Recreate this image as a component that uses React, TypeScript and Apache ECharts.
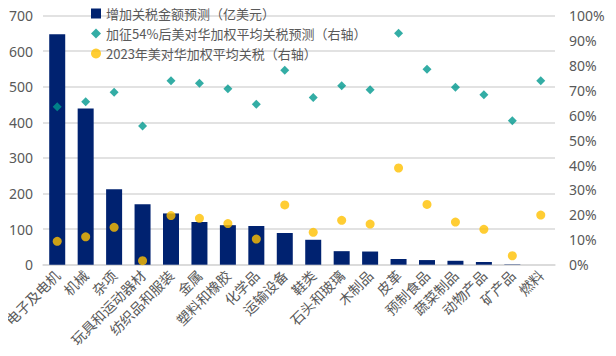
import React, { useEffect, useRef } from "react";
import * as echarts from "echarts";

const categories = [
  "电子及电机", "机械", "杂项", "玩具和运动器材", "纺织品和服装", "金属", "塑料和橡胶", "化学品", "运输设备",
  "鞋类", "石头和玻璃", "木制品", "皮革", "预制食品", "蔬菜制品", "动物产品", "矿产品", "燃料",
];
const tariffIncrease = [647, 439, 212, 170, 144, 120, 111, 109, 89, 70, 38, 37, 16, 13, 11, 7.6, 1, 0];
const tariffAfter54 = [63.4, 65.4, 69.2, 55.7, 73.8, 72.8, 70.6, 64.4, 78.0, 67.1, 71.8, 70.2, 92.9, 78.4, 71.2, 68.2, 57.8, 73.8];
const tariff2023 = [9.4, 11.2, 15.0, 1.6, 19.7, 18.6, 16.5, 10.3, 24.0, 13.0, 17.8, 16.3, 38.8, 24.2, 17.1, 14.2, 3.6, 19.9];
const leftTicks = [0, 100, 200, 300, 400, 500, 600, 700];
const names = ["增加关税金额预测（亿美元）", "加征54%后美对华加权平均关税预测（右轴）", "2023年美对华加权平均关税（右轴）"];

const FONT = "'Noto Sans', 'Noto Sans CJK SC', sans-serif";
const CJK = "'Noto Sans CJK SC', sans-serif";

export default function App() {
  const ref = useRef<HTMLDivElement>(null);
  useEffect(() => {
    const chart = echarts.init(ref.current!, null, { renderer: "svg" });
    chart.setOption({
      animation: false,
      backgroundColor: "#ffffff",
      grid: { left: 43, right: 61, top: 15.5, bottom: 91.3, containLabel: false },
      legend: {
        orient: "vertical",
        left: 86,
        top: 2,
        itemGap: 7,
        itemWidth: 10,
        itemHeight: 10,
        textStyle: { color: "#595959", fontSize: 13, fontFamily: CJK },
        data: [
          { name: names[0], icon: "rect" },
          { name: names[1], icon: "diamond" },
          { name: names[2], icon: "circle" },
        ],
      },
      xAxis: {
        type: "category",
        data: categories,
        axisLine: { lineStyle: { color: "#D9D9D9", width: 1.5 } },
        axisTick: { show: false },
        axisLabel: { rotate: 45, interval: 0, color: "#595959", fontSize: 14, fontFamily: CJK, margin: 8 },
      },
      yAxis: [
        {
          type: "value",
          min: leftTicks[0],
          max: leftTicks[leftTicks.length - 1],
          interval: 100,
          axisLine: { show: false },
          axisTick: { show: false },
          splitLine: { lineStyle: { color: "#D9D9D9", width: 1.5 } },
          axisLabel: { color: "#595959", fontSize: 14, fontFamily: FONT, margin: 10 },
        },
        {
          type: "value",
          min: 0,
          max: 100,
          interval: 10,
          position: "right",
          axisLine: { show: false },
          axisTick: { show: false },
          splitLine: { show: false },
          axisLabel: { color: "#595959", fontSize: 14, fontFamily: FONT, margin: 14, formatter: "{value}%" },
        },
      ],
      series: [
        {
          name: names[0],
          type: "bar",
          data: tariffIncrease,
          yAxisIndex: 0,
          barWidth: 16,
          itemStyle: { color: "#002270" },
        },
        {
          name: names[1],
          type: "scatter",
          data: tariffAfter54,
          yAxisIndex: 1,
          symbol: "diamond",
          symbolSize: 9,
          itemStyle: { color: "#00998F" },
        },
        {
          name: names[2],
          type: "scatter",
          data: tariff2023,
          yAxisIndex: 1,
          symbol: "circle",
          symbolSize: 9,
          itemStyle: { color: "#FFC000" },
        },
      ],
    });
    return () => chart.dispose();
  }, []);
  return <div ref={ref} style={{ width: 616, height: 356, margin: "-8px" }} />;
}
